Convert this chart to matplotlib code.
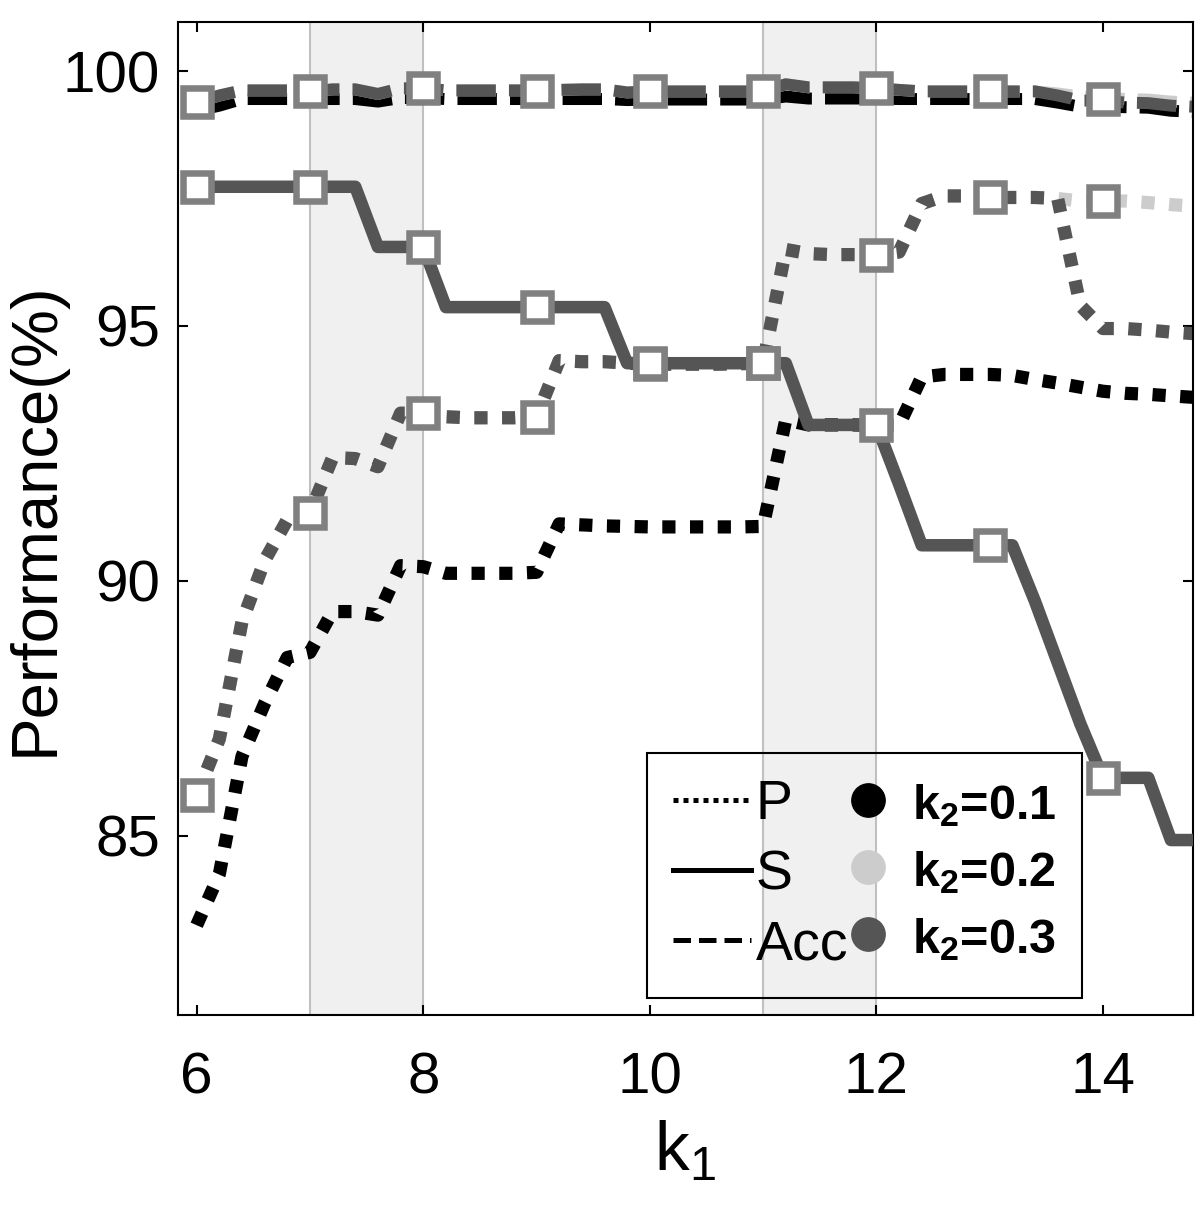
import numpy as np
import matplotlib
matplotlib.use("Agg")
import matplotlib.pyplot as plt
from matplotlib.lines import Line2D

plt.rcParams["font.family"] = ["Liberation Sans", "DejaVu Sans"]
plt.rcParams["mathtext.fontset"] = "custom"
plt.rcParams["mathtext.rm"] = "Liberation Sans"
plt.rcParams["mathtext.bf"] = "Liberation Sans:bold"
plt.rcParams["mathtext.default"] = "regular"

# k1 grid (step 0.2)
k1 = np.round(np.arange(6.0, 14.81, 0.2), 1)

# P (dotted)
P_k1 = [83.25, 84.25, 86.56, 87.6, 88.5, 88.6, 89.4, 89.4, 89.33, 90.3,
        90.28, 90.15, 90.15, 90.15, 90.15, 90.17, 91.12, 91.1, 91.08, 91.07,
        91.06, 91.06, 91.06, 91.06, 91.06, 91.07, 93.16, 93.06, 93.06, 93.06,
        93.05, 93.05, 94.0, 94.05, 94.05, 94.05, 94.03, 93.95, 93.88, 93.8,
        93.72, 93.68, 93.66, 93.63, 93.6]
P_k2 = [85.8, 86.9, 89.2, 90.4, 91.2, 91.34, 92.42, 92.4, 92.24, 93.29,
        93.29, 93.22, 93.2, 93.2, 93.2, 93.22, 94.32, 94.3, 94.3, 94.27,
        94.25, 94.25, 94.25, 94.25, 94.26, 94.27, 96.5, 96.42, 96.4, 96.4,
        96.4, 96.45, 97.4, 97.55, 97.55, 97.52, 97.52, 97.52, 97.5, 97.45,
        97.45, 97.45, 97.42, 97.38, 97.35]
P_k3 = [85.8, 86.9, 89.2, 90.4, 91.2, 91.34, 92.42, 92.4, 92.24, 93.29,
        93.29, 93.22, 93.2, 93.2, 93.2, 93.22, 94.32, 94.3, 94.3, 94.27,
        94.25, 94.25, 94.25, 94.25, 94.26, 94.27, 96.5, 96.42, 96.4, 96.4,
        96.4, 96.45, 97.4, 97.55, 97.55, 97.52, 97.52, 97.52, 97.5, 95.4,
        94.95, 94.95, 94.92, 94.88, 94.85]

# S (solid) - same for every k2
S_all = [97.73, 97.73, 97.73, 97.73, 97.73, 97.73, 97.73, 97.73, 96.55, 96.55,
         96.55, 95.37, 95.37, 95.37, 95.37, 95.37, 95.37, 95.37, 95.37, 94.27,
         94.27, 94.27, 94.27, 94.27, 94.27, 94.27, 94.27, 93.06, 93.06, 93.06,
         93.06, 91.9, 90.7, 90.7, 90.7, 90.7, 90.7, 89.6, 88.4, 87.2,
         86.14, 86.14, 86.14, 84.92, 84.92]

# Acc (dashed)
Acc_k1 = [99.22, 99.32, 99.45, 99.45, 99.45, 99.45, 99.45, 99.45, 99.4, 99.47,
          99.47, 99.45, 99.45, 99.45, 99.45, 99.45, 99.45, 99.45, 99.45, 99.43,
          99.44, 99.44, 99.44, 99.44, 99.44, 99.44, 99.5, 99.46, 99.46, 99.46,
          99.46, 99.45, 99.45, 99.45, 99.45, 99.45, 99.45, 99.45, 99.38, 99.3,
          99.3, 99.29, 99.28, 99.22, 99.2]
Acc_k2 = [99.38, 99.52, 99.62, 99.62, 99.62, 99.6, 99.64, 99.64, 99.55, 99.66,
          99.66, 99.62, 99.62, 99.62, 99.62, 99.62, 99.63, 99.64, 99.64, 99.58,
          99.6, 99.6, 99.6, 99.6, 99.6, 99.6, 99.74, 99.68, 99.68, 99.68,
          99.66, 99.63, 99.6, 99.6, 99.6, 99.6, 99.6, 99.6, 99.56, 99.5,
          99.48, 99.45, 99.44, 99.4, 99.38]
Acc_k3 = [99.38, 99.52, 99.62, 99.62, 99.62, 99.6, 99.64, 99.64, 99.55, 99.66,
          99.66, 99.62, 99.62, 99.62, 99.62, 99.62, 99.63, 99.64, 99.64, 99.58,
          99.6, 99.6, 99.6, 99.6, 99.6, 99.6, 99.74, 99.68, 99.68, 99.68,
          99.66, 99.63, 99.6, 99.6, 99.6, 99.6, 99.6, 99.6, 99.52, 99.42,
          99.42, 99.38, 99.37, 99.32, 99.3]

# square markers at integer k1
mark_k1 = [6, 7, 8, 9, 10, 11, 12, 13, 14]
mark_P = [85.8, 91.34, 93.29, 93.22, 94.25, 94.27, 96.4, 97.52, 97.45]
mark_S = [97.73, 97.73, 96.55, 95.37, 94.27, 94.27, 93.06, 90.7, 86.14]
mark_Acc = [99.4, 99.6, 99.66, 99.6, 99.6, 99.6, 99.66, 99.6, 99.46]

shade_ranges = [(7, 8), (11, 12)]

k2_labels = [r"$\mathbf{k_2}$=0.1", r"$\mathbf{k_2}$=0.2", r"$\mathbf{k_2}$=0.3"]
k2_colors = ["#000000", "#cccccc", "#555555"]

fig = plt.figure(figsize=(12, 12.18), dpi=100)
ax = fig.add_axes([0.1483, 0.1667, 0.8459, 0.8152])

for a, b in shade_ranges:
    ax.axvspan(a, b, facecolor="#f0f0f0", edgecolor="none", zorder=0)
    for xv in (a, b):
        ax.axvline(xv, color="#c0c0c0", lw=1.5, zorder=0.5)

dot = (0, (1, 1.1))
dash = (0, (3.3, 1.1))
for ys, c in zip([P_k1, P_k2, P_k3], k2_colors):
    ax.plot(k1, ys, color=c, lw=9.5, ls=dot, dash_joinstyle="round", zorder=2)
for ys, c in zip([Acc_k1, Acc_k2, Acc_k3], k2_colors):
    ax.plot(k1, ys, color=c, lw=8.6, ls=dash, dash_joinstyle="round", zorder=2)
ax.plot(k1, S_all, color=k2_colors[2], lw=9, solid_joinstyle="round", zorder=3)

for ys in (mark_P, mark_S, mark_Acc):
    ax.plot(mark_k1, ys, ls="none", marker="s", ms=19.8, mew=4.7,
            mec="#808080", mfc="white", zorder=5)

ax.set_xlim(5.835, 14.795)
ax.set_ylim(81.49, 100.96)
ax.set_xticks([6, 8, 10, 12, 14])
ax.set_yticks([85, 90, 95, 100])
ax.tick_params(direction="in", length=7, width=1.5, labelsize=42,
               top=True, right=True)
ax.tick_params(axis="x", pad=26)
ax.tick_params(axis="y", pad=13)
for sp in ax.spines.values():
    sp.set_linewidth(1.5)

ax.set_xlabel(r"k$_1$", fontsize=50, labelpad=10)
ax.set_ylabel("Performance(%)", fontsize=47, labelpad=-2)

handles = [
    Line2D([], [], color="k", lw=3.6, ls=(0, (1, 1))),
    Line2D([], [], color="k", lw=3.6),
    Line2D([], [], color="k", lw=3.6, ls=(0, (3.5, 1.6))),
]
labels = ["P", "S", "Acc"]
for c, lab in zip(k2_colors, k2_labels):
    handles.append(Line2D([], [], ls="none", marker="o", ms=24, color=c))
    labels.append(lab)

leg = ax.legend(handles, labels, ncol=2, loc="lower right",
                bbox_to_anchor=(0.8906, 0.0171), borderaxespad=0,
                fontsize=40, handlelength=1.4, handletextpad=0.09,
                columnspacing=-0.35, labelspacing=0.33, borderpad=0.47,
                fancybox=False, framealpha=1)
leg.get_frame().set_facecolor("none")
leg.get_frame().set_edgecolor("black")
leg.get_frame().set_linewidth(1.5)
for t in leg.get_texts()[3:]:
    t.set_fontweight("bold")
    t.set_fontsize(35)
leg.set_zorder(10)

fig.savefig("out.png", dpi=100)
